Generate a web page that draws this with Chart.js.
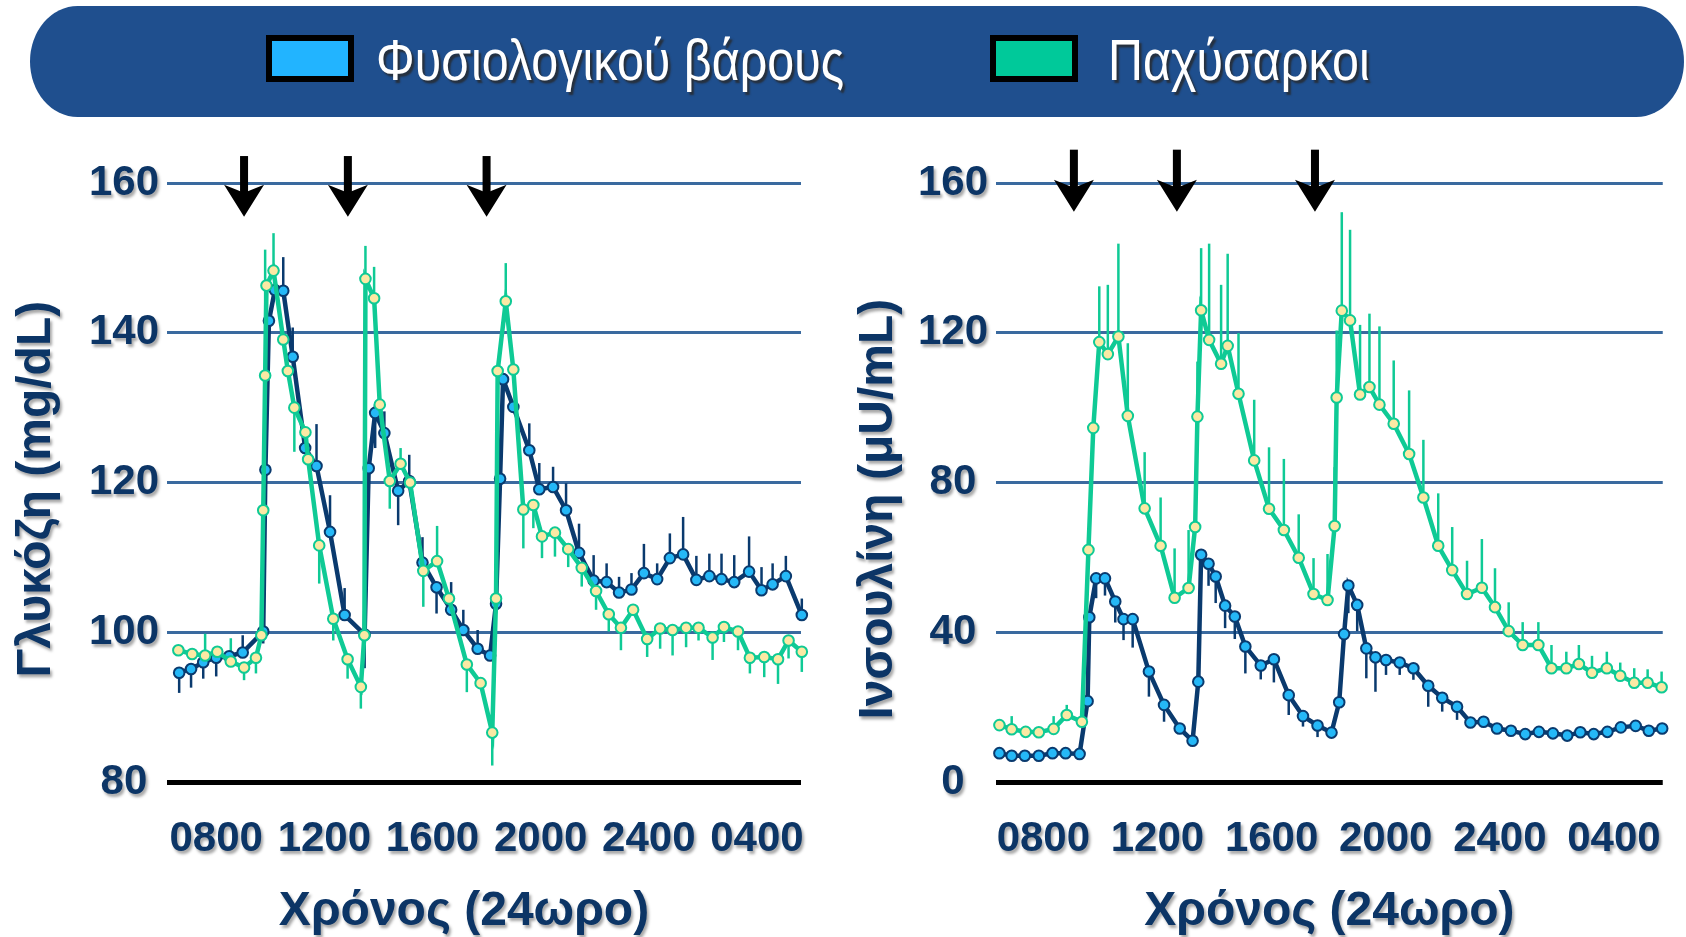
<!DOCTYPE html>
<html>
<head>
<meta charset="utf-8">
<script src="https://cdn.jsdelivr.net/npm/chart.js@4.4.1/dist/chart.umd.min.js"></script>
<style>
  body { margin: 0; width: 1686px; height: 937px; background: #fff; position: relative; overflow: hidden; }
  .banner { position: absolute; left: 30px; top: 6px; width: 1654px; height: 111px; background: #1f4f8e; border-radius: 48px / 56px; }
  .swatch { position: absolute; top: 29px; width: 88px; height: 47px; box-sizing: border-box; border: 6px solid #000; }
  .label { position: absolute; top: 26px; line-height: 1; color: #fff; font-family: 'Liberation Sans Narrow', 'Liberation Sans', sans-serif; font-size: 57px; white-space: nowrap; transform: scaleX(0.85); transform-origin: left center; text-shadow: 3px 3px 2px rgba(40, 40, 40, 0.8); }
  #glucoseWrap { position: absolute; left: 0; top: 120px; }
  #insulinWrap { position: absolute; left: 830px; top: 120px; }
</style>
</head>
<body>
<div class="banner">
  <div class="swatch" style="left:236px; background:#22b4ff"></div>
  <div class="label" style="left:346px">Φυσιολογικού βάρους</div>
  <div class="swatch" style="left:960px; background:#00c99a"></div>
  <div class="label" style="left:1078px">Παχύσαρκοι</div>
</div>
<div id="glucoseWrap"><canvas id="glucose" width="830" height="817"></canvas></div>
<div id="insulinWrap"><canvas id="insulin" width="856" height="817"></canvas></div>
<script>
// time axis (hours since midnight, 24+ = next day)
const hourTicks = [8, 12, 16, 20, 24, 28];
const hourLabels = ['0800', '1200', '1600', '2000', '2400', '0400'];

// glucose, normal weight
const glucoseNormalTime = [6.63, 7.07, 7.52, 8.00, 8.48, 8.98, 9.74, 9.82, 9.95, 10.17, 10.48, 10.83, 11.29, 11.71, 12.21, 12.75, 13.49, 13.64, 13.88, 14.22, 14.73, 15.14, 15.63, 16.15, 16.69, 17.14, 17.67, 18.13, 18.35, 18.50, 18.61, 18.99, 19.58, 19.95, 20.46, 20.94, 21.42, 21.96, 22.44, 22.90, 23.36, 23.82, 24.31, 24.78, 25.27, 25.76, 26.24, 26.69, 27.16, 27.71, 28.17, 28.58, 29.07, 29.66];
const glucoseNormal = [94.6, 95.1, 96.0, 96.6, 96.8, 97.3, 100.1, 121.7, 141.6, 145.7, 145.6, 136.8, 124.6, 122.2, 113.4, 102.3, 99.7, 121.9, 129.3, 126.6, 118.9, 120.2, 109.3, 106.0, 103.0, 100.3, 97.8, 96.9, 103.8, 120.5, 133.8, 130.1, 124.3, 119.1, 119.4, 116.3, 110.6, 106.9, 106.7, 105.3, 105.7, 107.9, 107.1, 109.9, 110.4, 107.0, 107.5, 107.1, 106.7, 108.1, 105.6, 106.4, 107.5, 102.3];
const glucoseNormalErr = [-2.7, -2.5, -2.2, -2.5, 0, 2.3, -1.6, 0, 0, 0, 4.5, 3.9, 0, 5.6, 4.9, 3.6, -4.5, 0, -4.7, 2.9, -4.6, 3.5, 3.4, -3.5, 3.7, 2.7, 2.5, 0, 0, 0, 0, 0, 3.6, 3.5, 2.7, 3.6, 3.9, 3.4, 2.5, 2.1, 2.2, 3.9, 2.1, 3.3, 5.0, 3.2, 3.0, 3.4, 3.6, 4.7, 3.1, 2.8, 2.7, 2.2];

// glucose, obese
const glucoseObeseTime = [6.60, 7.11, 7.59, 8.04, 8.54, 9.03, 9.47, 9.67, 9.74, 9.81, 9.86, 10.12, 10.48, 10.65, 10.89, 11.30, 11.40, 11.81, 12.33, 12.86, 13.35, 13.48, 13.52, 13.84, 14.05, 14.42, 14.82, 15.17, 15.66, 16.17, 16.61, 17.27, 17.78, 18.21, 18.35, 18.41, 18.71, 18.99, 19.36, 19.73, 20.05, 20.53, 21.02, 21.52, 22.05, 22.52, 22.97, 23.42, 23.94, 24.42, 24.88, 25.38, 25.84, 26.36, 26.78, 27.30, 27.74, 28.27, 28.78, 29.17, 29.66];
const glucoseObese = [97.6, 97.1, 96.9, 97.4, 96.1, 95.3, 96.6, 99.6, 116.3, 134.3, 146.3, 148.3, 139.1, 134.9, 130.0, 126.7, 123.1, 111.6, 101.8, 96.4, 92.7, 99.6, 147.2, 144.6, 130.4, 120.2, 122.5, 120.0, 108.2, 109.5, 104.5, 95.7, 93.2, 86.6, 104.5, 134.9, 144.2, 135.1, 116.4, 117.0, 112.8, 113.3, 111.1, 108.6, 105.5, 102.4, 100.6, 103.0, 99.1, 100.5, 100.3, 100.6, 100.6, 99.3, 100.7, 100.1, 96.6, 96.7, 96.4, 98.9, 97.4];
const glucoseObeseErr = [0, 0, 2.9, 0, 3.1, -1.7, -2.1, 0, 0, 16.8, 0, 5.0, 0, 0, -5.9, 0, 0, -5.1, -2.9, -2.6, -2.9, 0, 4.4, 4.2, 0, -3.7, 2.1, 0, -4.8, 4.7, 0, -3.7, 0, -4.4, 0, 0, 5.1, 0, -5.2, -3.1, -2.9, -3.2, -2.4, -2.5, -2.5, -2.3, -3.0, 0, -2.4, -2.7, -3.4, -2.6, -1.7, -3.0, -2.0, -2.5, -2.1, -2.7, -3.3, -2.4, -2.7];

// insulin, normal weight
const insulinNormalTime = [6.46, 6.89, 7.35, 7.84, 8.32, 8.78, 9.27, 9.55, 9.61, 9.85, 10.16, 10.52, 10.81, 11.13, 11.70, 12.23, 12.78, 13.23, 13.43, 13.53, 13.79, 14.04, 14.37, 14.71, 15.08, 15.62, 16.08, 16.60, 17.10, 17.61, 18.10, 18.37, 18.54, 18.69, 19.00, 19.32, 19.64, 20.01, 20.49, 20.97, 21.49, 21.98, 22.50, 22.97, 23.43, 23.90, 24.39, 24.89, 25.37, 25.86, 26.36, 26.82, 27.29, 27.77, 28.24, 28.76, 29.22, 29.69];
const insulinNormal = [7.7, 7.0, 7.0, 7.0, 7.7, 7.7, 7.5, 21.6, 44.0, 54.4, 54.4, 48.2, 43.5, 43.5, 29.5, 20.6, 14.3, 11.0, 26.8, 60.7, 58.3, 54.9, 47.1, 44.2, 36.2, 31.1, 32.8, 23.2, 17.6, 15.1, 13.2, 21.3, 39.5, 52.5, 47.3, 35.7, 33.3, 32.6, 31.9, 30.4, 25.7, 22.5, 20.1, 15.9, 16.1, 14.3, 13.7, 12.8, 13.4, 13.0, 12.4, 13.3, 12.8, 13.4, 14.6, 15.0, 13.7, 14.3];
const insulinNormalErr = [0, 0, 0, 0, 0, 0, 0, 0, 0, -5.3, -4.6, -5.6, -5.6, -7.6, -6.7, -4.5, 0, 0, 0, 0, -5.9, -7.1, -6.0, -6.0, -7.2, -3.7, -6.2, -5.3, -2.8, -3.1, 0, 0, 0, -7.4, -7.0, -8.0, -9.2, -4.0, -3.3, -3.1, -5.6, -3.7, -3.5, 0, 0, 0, 0, 0, 0, 0, 0, 0, 0, 0, 0, 0, 0, 0];

// insulin, obese
const insulinObeseTime = [6.46, 6.89, 7.38, 7.84, 8.36, 8.82, 9.35, 9.58, 9.75, 9.96, 10.26, 10.63, 10.96, 11.55, 12.11, 12.60, 13.09, 13.32, 13.40, 13.53, 13.81, 14.23, 14.46, 14.84, 15.39, 15.91, 16.43, 16.95, 17.47, 17.96, 18.21, 18.28, 18.46, 18.75, 19.10, 19.43, 19.78, 20.28, 20.82, 21.32, 21.84, 22.33, 22.85, 23.37, 23.83, 24.31, 24.80, 25.35, 25.81, 26.33, 26.77, 27.23, 27.75, 28.22, 28.71, 29.18, 29.67];
const insulinObese = [15.2, 14.1, 13.4, 13.3, 14.2, 17.9, 16.1, 62.0, 94.6, 117.5, 114.3, 119.0, 97.8, 73.1, 63.1, 49.2, 51.8, 68.1, 97.6, 126.0, 118.1, 111.7, 116.5, 103.7, 85.9, 73.0, 67.3, 59.9, 50.2, 48.6, 68.4, 102.7, 125.9, 123.3, 103.5, 105.5, 100.8, 95.7, 87.6, 76.0, 63.1, 56.6, 50.2, 51.9, 46.7, 40.3, 36.6, 36.6, 30.4, 30.4, 31.5, 29.2, 30.4, 28.4, 26.5, 26.5, 25.3];
const insulinObeseErr = [0, 3.5, 0, 0, 3.4, 2.7, 0, 0, 0, 14.9, 18.5, 24.8, 19.4, 15.0, 12.9, 13.2, 15.5, 0, 14.7, 16.6, 25.7, 21.1, 24.6, 16.2, 16.2, 16.4, 19.0, 11.6, 9.6, 12.3, 15.7, 17.9, 26.3, 24.2, 18.6, 19.6, 20.9, 16.9, 17.0, 15.4, 14.0, 11.5, 8.9, 13.0, 10.4, 7.7, 6.1, 6.1, 6.2, 4.4, 5.1, 4.5, 4.4, 3.5, 3.9, 3.6, 4.2];

// meal times (arrows)
const glucoseMeals = [9.03, 12.87, 18.00];
const insulinMeals = [9.07, 12.68, 17.52];

const navyText = '#0c3566';
const navyLine = '#0a3a6e';
const blueFill = '#25b8f7';
const greenLine = '#0fca95';
const yellowFill = '#fbe9a4';
const gridBlue = '#3a6a9f';
const sansFont = "'Liberation Sans', Arial, sans-serif";

Chart.defaults.font.family = sansFont;

const toPoints = (t, v) => t.map((x, i) => ({ x: x, y: v[i] }));

// vertical one-sided error bars, signed value per point
const errorBars = {
  id: 'errorBars',
  beforeDatasetsDraw(chart) {
    const { ctx, scales: { x, y } } = chart;
    chart.data.datasets.forEach(ds => {
      ctx.save();
      ctx.strokeStyle = ds.borderColor;
      ctx.lineWidth = 2.5;
      ds.data.forEach((p, j) => {
        const e = ds.errors[j];
        if (!e) return;
        const px = x.getPixelForValue(p.x);
        ctx.beginPath();
        ctx.moveTo(px, y.getPixelForValue(p.y));
        ctx.lineTo(px, y.getPixelForValue(p.y + e));
        ctx.stroke();
      });
      ctx.restore();
    });
  }
};

// meal arrows above the plot
const mealArrows = {
  id: 'mealArrows',
  afterDraw(chart, args, opts) {
    const { ctx, scales: { x, y } } = chart;
    const top = y.getPixelForValue(opts.from);
    const tip = y.getPixelForValue(opts.to);
    ctx.save();
    ctx.fillStyle = '#000';
    opts.times.forEach(t => {
      const px = x.getPixelForValue(t);
      const neck = tip - 24;
      ctx.fillRect(px - 4, top, 8, neck - top + 1);
      ctx.beginPath();
      ctx.moveTo(px - 20, neck - 8);
      ctx.lineTo(px, neck);
      ctx.lineTo(px + 20, neck - 8);
      ctx.lineTo(px, tip);
      ctx.closePath();
      ctx.fill();
    });
    ctx.restore();
  }
};

// soft shadow under axis labels and titles
const textShadow = {
  id: 'textShadow',
  beforeDraw(chart) {
    Object.values(chart.scales).forEach(s => {
      if (s._shadowed) return;
      const wrap = (fn) => function (...a) {
        const c = this.ctx;
        c.save();
        c.shadowColor = 'rgba(0,0,0,0.35)';
        c.shadowOffsetX = 2;
        c.shadowOffsetY = 3;
        c.shadowBlur = 3;
        fn.apply(this, a);
        c.restore();
      };
      s.drawLabels = wrap(s.drawLabels);
      s.drawTitle = wrap(s.drawTitle);
      s._shadowed = true;
    });
  }
};

function series(t, v, err, line, fill, order) {
  return {
    data: toPoints(t, v),
    errors: err,
    borderColor: line,
    borderWidth: 4.5,
    pointRadius: 5.3,
    pointBorderWidth: 2,
    pointBackgroundColor: fill,
    pointBorderColor: line,
    tension: 0,
    clip: false,
    order: order
  };
}

function makeChart(id, cfg) {
  return new Chart(document.getElementById(id), {
    type: 'line',
    data: { datasets: cfg.datasets },
    options: {
      responsive: false,
      animation: false,
      layout: { padding: cfg.padding },
      plugins: {
        legend: { display: false },
        tooltip: { enabled: false },
        mealArrows: cfg.arrows
      },
      scales: {
        x: {
          type: 'linear',
          min: cfg.xMin,
          max: cfg.xMax,
          afterBuildTicks: s => { s.ticks = hourTicks.map(v => ({ value: v })); },
          afterFit: s => { s.height = 155; },
          grid: { display: false },
          border: { display: false },
          ticks: {
            autoSkip: false,
            maxRotation: 0,
            padding: 24,
            color: navyText,
            font: { size: 42, weight: 'bold' },
            callback: (v, i) => hourLabels[i]
          },
          title: {
            display: true,
            text: cfg.xTitle,
            color: navyText,
            font: { size: 48, weight: 'bold', lineHeight: 1 },
            padding: { top: 0, bottom: 1 }
          }
        },
        y: {
          min: cfg.yMin,
          max: cfg.yMax,
          afterFit: s => { s.width = cfg.yWidth; },
          ticks: {
            stepSize: cfg.yStep,
            padding: 8,
            crossAlign: 'center',
            color: navyText,
            font: { size: 42, weight: 'bold' }
          },
          grid: {
            drawTicks: false,
            color: c => c.tick.value === cfg.yMin ? '#000' : gridBlue,
            lineWidth: c => c.tick.value === cfg.yMin ? 5 : 3
          },
          border: { display: false },
          title: {
            display: true,
            text: cfg.yTitle,
            color: navyText,
            font: { size: 48, weight: 'bold' },
            padding: { top: cfg.titlePad, bottom: 0 }
          }
        }
      }
    },
    plugins: [errorBars, mealArrows, textShadow]
  });
}

makeChart('glucose', {
  datasets: [
    series(glucoseObeseTime, glucoseObese, glucoseObeseErr, greenLine, yellowFill, 0),
    series(glucoseNormalTime, glucoseNormal, glucoseNormalErr, navyLine, blueFill, 1)
  ],
  padding: { left: 0, top: 63, right: 29, bottom: 0 },
  xMin: 6.18, xMax: 29.63,
  yMin: 80, yMax: 160, yStep: 20,
  yWidth: 167, titlePad: 8,
  xTitle: 'Χρόνος (24ωρο)   ',
  yTitle: 'Γλυκόζη (mg/dL) ',
  arrows: { times: glucoseMeals, from: 163.6, to: 155.5 }
});

makeChart('insulin', {
  datasets: [
    series(insulinObeseTime, insulinObese, insulinObeseErr, greenLine, yellowFill, 0),
    series(insulinNormalTime, insulinNormal, insulinNormalErr, navyLine, blueFill, 1)
  ],
  padding: { left: 0, top: 63, right: 18, bottom: 0 },
  xMin: 6.34, xMax: 29.71,
  yMin: 0, yMax: 160, yStep: 40,
  yWidth: 166, titlePad: 20,
  xTitle: 'Χρόνος (24ωρο)',
  yTitle: 'Ινσουλίνη (μU/mL)    ',
  arrows: { times: insulinMeals, from: 168.9, to: 152.3 }
});
</script>
</body>
</html>
